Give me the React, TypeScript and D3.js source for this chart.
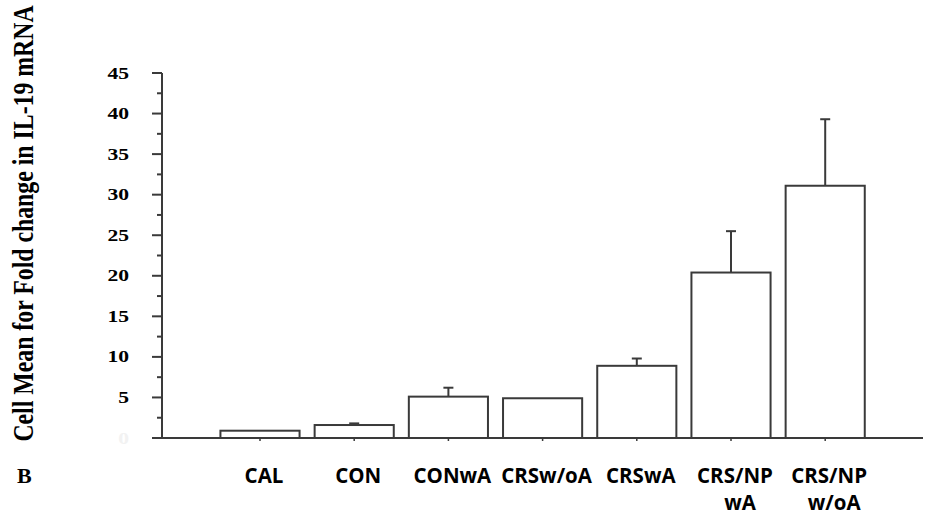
import React from "react";
import * as d3 from "d3";

// Groups along the x axis (a space marks a line break in the label)
const categories = [
  "CAL",
  "CON",
  "CONwA",
  "CRSw/oA",
  "CRSwA",
  "CRS/NP wA",
  "CRS/NP w/oA",
];
// Cell mean fold change in IL-19 mRNA
const means = [0.9, 1.6, 5.1, 4.9, 8.9, 20.4, 31.1];
// Upper error (SEM) above each mean
const errors = [0, 0.2, 1.1, 0, 0.9, 5.1, 8.2];
// Y axis tick values
const majorTicks = [0, 5, 10, 15, 20, 25, 30, 35, 40, 45];
const minorTicks = [2.5, 7.5, 12.5, 17.5, 22.5, 27.5, 32.5, 37.5, 42.5];

const W = 928;
const H = 517;
const INK = "#3a3a3a";
const SERIF = "'Liberation Serif', 'Times New Roman', serif";
const SANS = "'Open Sans', 'Noto Sans', sans-serif";

export default function App() {
  const y = d3.scaleLinear().domain([0, 45]).range([438, 73]);
  const x = d3
    .scaleBand<string>()
    .domain(categories)
    .range([212.9, 872.3])
    .paddingInner(0.16)
    .paddingOuter(0.08);

  const axisX = 162;
  const baseY = y(0);
  const capHalf = 5;

  return (
    <svg
      width={W}
      height={H}
      viewBox={`0 0 ${W} ${H}`}
      style={{ position: "absolute", left: 0, top: 0, display: "block", background: "#fff" }}
    >
      <rect x={0} y={0} width={W} height={H} fill="#fff" />

      {/* Y axis title */}
      <text
        transform={`translate(33, 223.5) rotate(-90) scale(1, 1.25)`}
        textAnchor="middle"
        fontFamily={SERIF}
        fontWeight="bold"
        fontSize={23.8}
        fill="#000"
      >
        Cell Mean for Fold change in IL-19 mRNA
      </text>

      {/* Panel letter */}
      <text
        x={17}
        y={483}
        fontFamily={SERIF}
        fontWeight="bold"
        fontSize={22}
        fill="#000"
      >
        B
      </text>

      {/* Y axis */}
      <line x1={axisX} x2={axisX} y1={y(45)} y2={baseY} stroke={INK} strokeWidth={2} />
      {majorTicks.map((t) => (
        <g key={`M${t}`}>
          <line x1={axisX - 10} x2={axisX} y1={y(t)} y2={y(t)} stroke={INK} strokeWidth={2} />
          <text
            transform={`translate(129, ${y(t)}) scale(1.35, 1)`}
            dy="0.35em"
            textAnchor="end"
            fontFamily={SERIF}
            fontWeight="bold"
            fontSize={16}
            fill={t === 0 ? "#f2f2f2" : "#000"}
          >
            {t}
          </text>
        </g>
      ))}
      {minorTicks.map((t) => (
        <line key={`m${t}`} x1={axisX - 5} x2={axisX} y1={y(t)} y2={y(t)} stroke={INK} strokeWidth={2} />
      ))}

      {/* Bars */}
      {categories.map((c, i) => {
        const x0 = x(c) as number;
        const cx = x0 + x.bandwidth() / 2;
        const top = y(means[i]);
        const errTop = y(means[i] + errors[i]);
        return (
          <g key={c}>
            {errors[i] > 0 && (
              <g stroke={INK} strokeWidth={2}>
                <line x1={cx} x2={cx} y1={top} y2={errTop} />
                <line x1={cx - capHalf} x2={cx + capHalf} y1={errTop} y2={errTop} />
              </g>
            )}
            <rect
              x={x0}
              y={top}
              width={x.bandwidth()}
              height={baseY - top}
              fill="#fff"
              stroke={INK}
              strokeWidth={2}
            />
          </g>
        );
      })}

      {/* X axis */}
      <line x1={axisX - 10} x2={923} y1={baseY} y2={baseY} stroke={INK} strokeWidth={2} />
      {categories.map((c) => {
        const cx = (x(c) as number) + x.bandwidth() / 2;
        const lines = c.split(" ");
        return (
          <g key={`t${c}`}>
            <line x1={cx} x2={cx} y1={baseY} y2={baseY + 3} stroke={INK} strokeWidth={1.5} />
            <text
              textAnchor="middle"
              fontFamily={SANS}
              fontWeight="bold"
              fontSize={20.5}
              fill="#000"
            >
              {lines.map((ln, j) => (
                <tspan key={j} x={cx + 4 + j * 5} y={483 + j * 27}>
                  {ln}
                </tspan>
              ))}
            </text>
          </g>
        );
      })}
    </svg>
  );
}
